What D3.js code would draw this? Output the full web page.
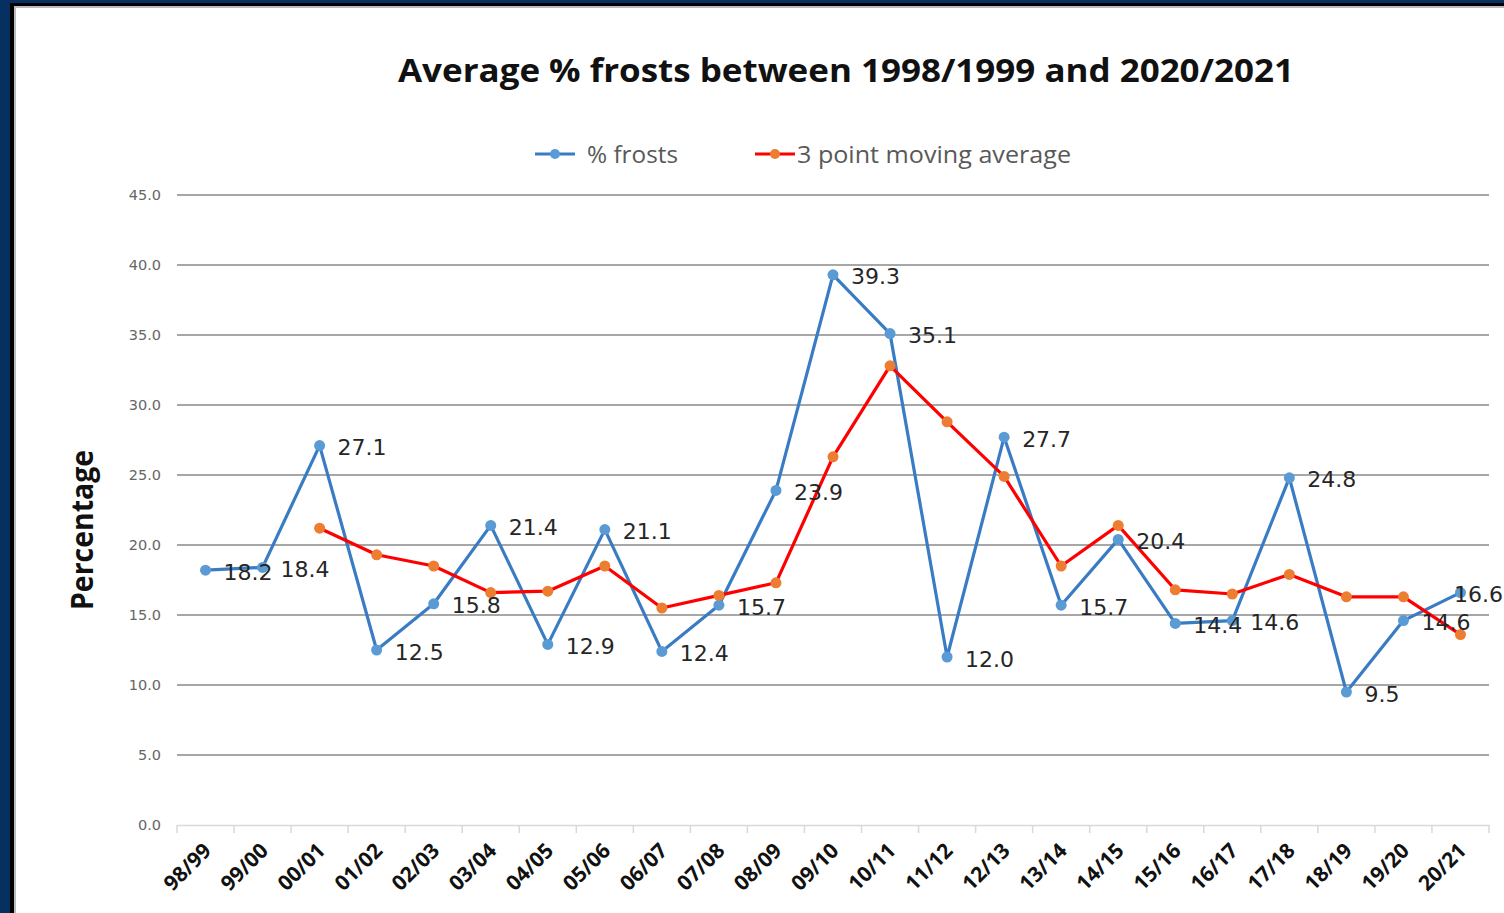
<!DOCTYPE html>
<html><head><meta charset="utf-8">
<script src="https://cdn.jsdelivr.net/npm/d3@7"></script>
<style>html,body{margin:0;padding:0;background:#fff;overflow:hidden}</style>
</head><body>
<svg id="c" width="1504" height="913"></svg>
<script>
const categories = ["98/99","99/00","00/01","01/02","02/03","03/04","04/05","05/06","06/07","07/08","08/09","09/10","10/11","11/12","12/13","13/14","14/15","15/16","16/17","17/18","18/19","19/20","20/21"];
const frosts = [18.2,18.4,27.1,12.5,15.8,21.4,12.9,21.1,12.4,15.7,23.9,39.3,35.1,12.0,27.7,15.7,20.4,14.4,14.6,24.8,9.5,14.6,16.6];
const movingAvg = [null,null,21.2,19.3,18.5,16.6,16.7,18.5,15.5,16.4,17.3,26.3,32.8,28.8,24.9,18.5,21.4,16.8,16.5,17.9,16.3,16.3,13.6];
const yTicks = [0,5,10,15,20,25,30,35,40,45];
const title = "Average % frosts between 1998/1999 and 2020/2021";
const yTitle = "Percentage";
const legendNames = ["% frosts","3 point moving average"];

const svg = d3.select("#c");
// frame
svg.append("rect").attr("x",0).attr("y",0).attr("width",1504).attr("height",913).attr("fill","#06305f");
svg.append("rect").attr("x",10).attr("y",3).attr("width",1494).attr("height",910).attr("fill","#000");
svg.append("rect").attr("x",14).attr("y",6).attr("width",1490).attr("height",907).attr("fill","#bbb");
svg.append("rect").attr("x",16).attr("y",8).attr("width",1488).attr("height",905).attr("fill","#fff");

const x = d3.scaleBand().domain(categories).range([177,1489]).padding(0);
const y = d3.scaleLinear().domain([0,45]).range([825,195]);
const cx = d => x(d) + x.bandwidth()/2;

// gridlines
svg.append("g").selectAll("line").data(yTicks.filter(t=>t>0)).join("line")
  .attr("x1",177).attr("x2",1489).attr("y1",d=>y(d)).attr("y2",d=>y(d))
  .attr("stroke","#8a8a8a").attr("stroke-width",1.6);

// y axis labels
const yAxis = d3.axisLeft(y).tickValues(yTicks).tickFormat(d3.format(".1f")).tickSize(0).tickPadding(0);
const yg = svg.append("g").attr("transform","translate(161,0)").call(yAxis);
yg.select(".domain").remove();
yg.selectAll("text").attr("font-family","DejaVu Sans").attr("font-size",14.5).attr("fill","#666");

// x axis
const xAxis = d3.axisBottom(x).tickSize(0).tickFormat("");
const xg = svg.append("g").attr("transform","translate(0,825)").call(xAxis);
xg.select(".domain").attr("stroke","#d9d9d9").attr("stroke-width",1.5);
const bounds = categories.map(c=>x(c)).concat([x(categories[categories.length-1])+x.bandwidth()]);
svg.append("g").selectAll("line").data(bounds).join("line")
  .attr("x1",d=>d).attr("x2",d=>d).attr("y1",825).attr("y2",833)
  .attr("stroke","#d9d9d9").attr("stroke-width",1.5);
svg.append("g").selectAll("text").data(categories).join("text")
  .attr("transform",d=>`translate(${cx(d)+7},852) rotate(-45)`)
  .attr("text-anchor","end")
  .attr("font-family","Open Sans").attr("font-weight",700).attr("font-size",21).attr("fill","#111")
  .text(d=>d);

// lines
const lineGen = d3.line().defined(d=>d.v!=null).x(d=>cx(d.c)).y(d=>y(d.v));
const fData = categories.map((c,i)=>({c,v:frosts[i]}));
const mData = categories.map((c,i)=>({c,v:movingAvg[i]}));

svg.append("path").datum(fData).attr("d",lineGen).attr("fill","none").attr("stroke","#3a7cc4").attr("stroke-width",3.2).attr("stroke-linejoin","round");
svg.append("g").selectAll("circle").data(fData).join("circle")
  .attr("cx",d=>cx(d.c)).attr("cy",d=>y(d.v)).attr("r",5.5).attr("fill","#5b9bd5");

svg.append("path").datum(mData).attr("d",lineGen).attr("fill","none").attr("stroke","#ff0000").attr("stroke-width",3.2).attr("stroke-linejoin","round");
svg.append("g").selectAll("circle").data(mData.filter(d=>d.v!=null)).join("circle")
  .attr("cx",d=>cx(d.c)).attr("cy",d=>y(d.v)).attr("r",5.5).attr("fill","#ed7d31");

// data labels
const last = categories.length-1;
svg.append("g").selectAll("text").data(fData).join("text")
  .attr("x",(d,i)=> i===last ? 1503 : cx(d.c)+18)
  .attr("text-anchor",(d,i)=> i===last ? "end" : "start")
  .attr("y",d=>y(d.v)+2)
  .attr("dominant-baseline","central")
  .attr("font-family","DejaVu Sans").attr("font-size",22).attr("fill","#262626")
  .text(d=>d.v.toFixed(1));

// title
svg.append("text").attr("x",846).attr("y",82).attr("text-anchor","middle")
  .attr("font-family","Open Sans").attr("font-weight",700).attr("font-size",33).attr("fill","#111")
  .attr("textLength",896).attr("lengthAdjust","spacingAndGlyphs")
  .text(title);

// y title
svg.append("text").attr("transform","translate(93,530) rotate(-90)").attr("text-anchor","middle")
  .attr("font-family","Open Sans").attr("font-weight",700).attr("font-size",30).attr("fill","#111")
  .attr("textLength",160).attr("lengthAdjust","spacingAndGlyphs")
  .text(yTitle);

// legend
const leg = [
  {name:legendNames[0], line:"#3a7cc4", mk:"#5b9bd5", x0:535, tx:587, w:91},
  {name:legendNames[1], line:"#ff0000", mk:"#ed7d31", x0:755, tx:797, w:274}
];
const lg = svg.append("g");
leg.forEach(l=>{
  lg.append("line").attr("x1",l.x0).attr("x2",l.x0+40).attr("y1",154).attr("y2",154).attr("stroke",l.line).attr("stroke-width",3.2);
  lg.append("circle").attr("cx",l.x0+20).attr("cy",154).attr("r",5).attr("fill",l.mk);
  lg.append("text").attr("x",l.tx).attr("y",154).attr("dominant-baseline","central")
    .attr("font-family","Open Sans").attr("font-size",23).attr("fill","#595959")
    .attr("textLength",l.w).attr("lengthAdjust","spacingAndGlyphs").text(l.name);
});
</script>
</body></html>
